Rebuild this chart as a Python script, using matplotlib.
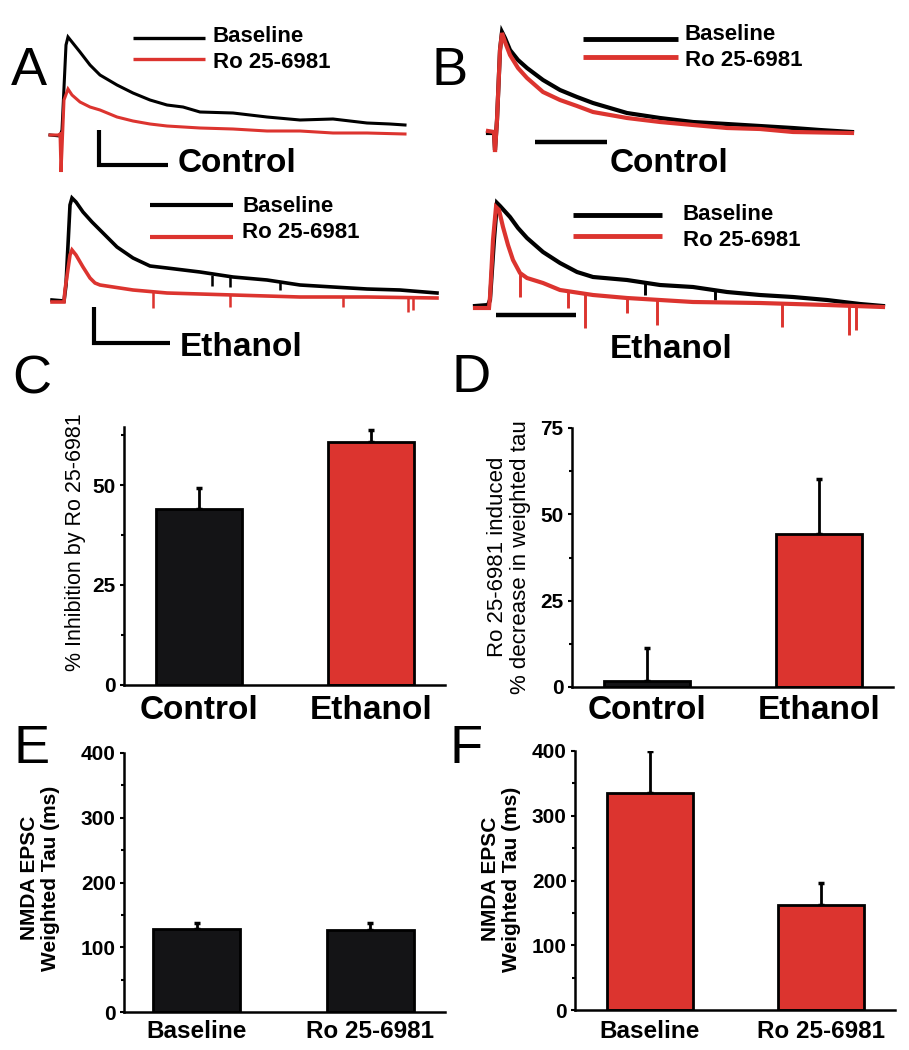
import matplotlib
matplotlib.use('Agg')
import matplotlib.pyplot as plt
import numpy as np

plt.rcParams['font.family'] = ['Liberation Sans', 'DejaVu Sans']

# ---- data (traces: time / amplitude in arbitrary units) ----
# A, control slice
a_ctrl_base_t = [0, 10, 12, 16, 18, 22, 30, 40, 50, 67, 83, 100, 117, 133, 150, 183, 217, 250, 283, 317, 340, 355]
a_ctrl_base_a = [0, -1, 5, 90, 98, 93, 83, 70, 60, 50, 42, 35, 30, 28, 23, 22, 18, 15, 16, 12, 11, 10]
a_ctrl_ro_t = [0, 8, 10, 11, 12, 14, 18, 22, 30, 40, 50, 67, 83, 100, 117, 150, 183, 217, 250, 283, 317, 355]
a_ctrl_ro_a = [0, 0, 1, -37, -15, 35, 46, 40, 33, 28, 25, 18, 14, 11, 9, 7, 6, 4, 4, 2, 2, 1]

# A, ethanol slice
a_eth_base_t = [0, 12, 14, 18, 20, 24, 31, 40, 48, 65, 81, 98, 115, 148, 181, 215, 248, 281, 315, 348, 385]
a_eth_base_a = [1, 0, 16, 96, 103, 99, 89, 79, 71, 54, 43, 35, 33, 29, 24, 21, 16, 14, 12, 11, 8]
a_eth_base_spk = [160, 178, 228]
a_eth_base_spk_top = [26, 24, 20]
a_eth_base_spk_bot = [15, 14, 11]
a_eth_ro_t = [0, 12, 13, 18, 20, 24, 31, 38, 43, 48, 81, 115, 181, 248, 315, 385]
a_eth_ro_a = [-1, -1, 11, 46, 51, 46, 34, 23, 18, 16, 11, 8, 6, 4, 4, 3]
a_eth_ro_spk = [101, 178, 291, 356, 361]
a_eth_ro_spk_top = [9, 6, 4, 4, 4]
a_eth_ro_spk_bot = [-7, -6, -6, -11, -9]

# B, control slice
b_ctrl_base_t = [0, 6, 7, 9, 12, 14, 17, 22, 30, 39, 55, 72, 89, 105, 122, 139, 172, 205, 239, 272, 305, 332, 364]
b_ctrl_base_a = [0, 0, -17, 13, 83, 101, 95, 83, 73, 65, 53, 43, 36, 30, 25, 20, 15, 11, 9, 7, 5, 3, 1]
b_ctrl_ro_t = [0, 6, 7, 9, 12, 14, 17, 22, 30, 39, 55, 72, 89, 105, 139, 172, 205, 239, 272, 305, 364]
b_ctrl_ro_a = [2, 1, -19, 13, 83, 100, 91, 78, 65, 55, 41, 33, 27, 21, 15, 11, 8, 5, 4, 1, 0]

# B, ethanol slice
b_eth_base_t = [0, 13, 15, 19, 22, 25, 35, 43, 52, 68, 85, 102, 118, 152, 185, 218, 252, 285, 318, 352, 385, 408]
b_eth_base_a = [2, 3, 8, 68, 105, 102, 91, 80, 70, 56, 45, 36, 31, 28, 23, 21, 16, 13, 11, 8, 4, 2]
b_eth_base_spk = [170, 240]
b_eth_base_spk_top = [25, 18]
b_eth_base_spk_bot = [13, 8]
b_eth_ro_t = [0, 14, 15, 18, 21, 24, 28, 33, 38, 45, 52, 68, 85, 118, 152, 218, 285, 352, 408]
b_eth_ro_a = [0, 0, 11, 68, 101, 98, 81, 63, 48, 35, 30, 25, 18, 13, 10, 6, 5, 3, 1]
b_eth_ro_spk = [45, 93, 110, 152, 182, 307, 374, 381]
b_eth_ro_spk_top = [35, 17, 14, 10, 8, 4, 3, 3]
b_eth_ro_spk_bot = [11, 0, -20, -5, -17, -19, -27, -22]

# C: % inhibition by Ro 25-6981
groups = ['Control', 'Ethanol']
inhib_mean = [44, 60.8]
inhib_sem = [5.3, 3.0]

# D: Ro-induced % decrease in weighted tau
tau_dec_mean = [1.8, 44.2]
tau_dec_sem = [9.5, 15.9]

# E, F: weighted tau (ms)
conditions = ['Baseline', 'Ro 25-6981']
tau_ctrl_mean = [128, 126]
tau_ctrl_sem = [9, 11]
tau_eth_mean = [335, 162]
tau_eth_sem = [65, 34]

BLACK = '#141416'
RED = '#dc342f'
W, H = 909, 1050

fig = plt.figure(figsize=(W / 100, H / 100), dpi=100)


def px_axes(x0, y0, x1, y1):
    return fig.add_axes([x0 / W, 1 - y1 / H, (x1 - x0) / W, (y1 - y0) / H])


def fig_text(x, y, s, **kw):
    fig.text(x / W, 1 - y / H, s, **kw)


def trace_panel(rect, xlim, ylim, base, ro, lw, base_spk=None, ro_spk=None):
    ax = px_axes(*rect)
    ax.plot(base[0], base[1], color='black', lw=lw, solid_joinstyle='miter')
    if base_spk:
        ax.vlines(base_spk[0], base_spk[1], base_spk[2], color='black', lw=lw * 0.7)
    ax.plot(ro[0], ro[1], color=RED, lw=lw, solid_joinstyle='miter')
    if ro_spk:
        ax.vlines(ro_spk[0], ro_spk[1], ro_spk[2], color=RED, lw=lw * 0.7)
    ax.set_xlim(*xlim)
    ax.set_ylim(*ylim)
    ax.axis('off')
    return ax


def legend_lines(ax, x0, x1, y_black, y_red, x_txt, y_txt_b, y_txt_r, lw):
    ax.plot([x0, x1], [y_black, y_black], color='black', lw=lw, solid_capstyle='butt')
    ax.plot([x0, x1], [y_red, y_red], color=RED, lw=lw, solid_capstyle='butt')
    ax.text(x_txt, y_txt_b, 'Baseline', fontsize=16, fontweight='bold', va='center', ha='left')
    ax.text(x_txt, y_txt_r, 'Ro 25-6981', fontsize=16, fontweight='bold', va='center', ha='left')


# ---- A: control ----
ax = trace_panel((40, 20, 450, 185), (-10, 400), (-50, 115),
                 (a_ctrl_base_t, a_ctrl_base_a), (a_ctrl_ro_t, a_ctrl_ro_a), 2.2)
ax.plot([49, 49, 118], [5, -30, -30], color='black', lw=3, solid_joinstyle='miter', solid_capstyle='butt')
ax.text(128, -28, 'Control', fontsize=24, fontweight='bold', va='center', ha='left')
legend_lines(ax, 83, 155, 97, 76, 163, 99, 73, 2.4)

# ---- A: ethanol ----
ax = trace_panel((40, 185, 450, 365), (-12, 398), (-64, 116),
                 (a_eth_base_t, a_eth_base_a), (a_eth_ro_t, a_eth_ro_a), 2.6,
                 (a_eth_base_spk, a_eth_base_spk_top, a_eth_base_spk_bot),
                 (a_eth_ro_spk, a_eth_ro_spk_top, a_eth_ro_spk_bot))
ax.plot([42, 42, 118], [-6, -42, -42], color='black', lw=3, solid_joinstyle='miter', solid_capstyle='butt')
ax.text(128, -46, 'Ethanol', fontsize=24, fontweight='bold', va='center', ha='left')
legend_lines(ax, 98, 181, 96, 64, 190, 94, 68, 3)

# ---- B: control ----
ax = trace_panel((465, 20, 895, 185), (-23, 407), (-52, 113),
                 (b_ctrl_base_t, b_ctrl_base_a), (b_ctrl_ro_t, b_ctrl_ro_a), 3.0)
ax.plot([47, 119], [-9, -9], color='black', lw=3.2, solid_capstyle='butt')
ax.text(122, -30, 'Control', fontsize=24, fontweight='bold', va='center', ha='left')
legend_lines(ax, 95, 190, 94, 76, 197, 98, 72, 3.5)

# ---- B: ethanol ----
ax = trace_panel((465, 190, 895, 365), (-10, 420), (-57, 118),
                 (b_eth_base_t, b_eth_base_a), (b_eth_ro_t, b_eth_ro_a), 3.0,
                 (b_eth_base_spk, b_eth_base_spk_top, b_eth_base_spk_bot),
                 (b_eth_ro_spk, b_eth_ro_spk_top, b_eth_ro_spk_bot))
ax.plot([21, 101], [-7, -7], color='black', lw=3.2, solid_capstyle='butt')
ax.text(135, -42, 'Ethanol', fontsize=24, fontweight='bold', va='center', ha='left')
legend_lines(ax, 98, 187, 93, 72, 208, 93, 67, 3.5)


# ---- bar panels ----
def bar_panel(rect, means, sems, colors, labels, ylim, major, minor, xlim, label_size, label_pad):
    ax = px_axes(*rect)
    pos = np.arange(len(means))
    ax.bar(pos, means, width=0.5, color=colors, edgecolor='black', linewidth=2, zorder=2)
    ax.errorbar(pos, means, yerr=[np.zeros(len(sems)), sems], fmt='none', ecolor='black',
                elinewidth=2, capsize=2, capthick=2.5, zorder=1)
    ax.set_xlim(*xlim)
    ax.set_ylim(*ylim)
    ax.set_yticks(major)
    ax.set_yticks(minor, minor=True)
    ax.set_xticks(pos, labels)
    for s in ('top', 'right'):
        ax.spines[s].set_visible(False)
    for s in ('left', 'bottom'):
        ax.spines[s].set_linewidth(1.8)
    ax.tick_params(axis='y', which='major', length=3, width=1.5, pad=3, labelsize=15)
    ax.tick_params(axis='y', which='minor', length=2, width=1.5)
    ax.tick_params(axis='x', length=0, pad=label_pad, labelsize=label_size)
    for t in ax.get_yticklabels() + ax.get_xticklabels():
        t.set_fontweight('bold')
    return ax


bar_panel((124, 427, 445, 685), inhib_mean, inhib_sem, [BLACK, RED], groups,
          (0, 64.5), [0, 25, 50], [12.5, 37.5, 62.5], (-0.436, 1.43), 24, 7)
fig_text(75, 542, '% Inhibition by Ro 25-6981', rotation=90, fontsize=15.5, ha='center', va='center')

bar_panel((572, 428, 893, 687), tau_dec_mean, tau_dec_sem, [BLACK, RED], groups,
          (0, 75), [0, 25, 50, 75], [12.5, 37.5, 62.5], (-0.436, 1.43), 24, 6)
fig_text(509, 557, 'Ro 25-6981 induced\n% decrease in weighted tau', rotation=90, fontsize=16,
         ha='center', va='center', multialignment='center', linespacing=1.15)

bar_panel((124, 753, 445, 1012), tau_ctrl_mean, tau_ctrl_sem, [BLACK, BLACK], conditions,
          (0, 400), [0, 100, 200, 300, 400], [50, 150, 250, 350], (-0.42, 1.43), 17.5, 6)
fig_text(40, 878, 'NMDA EPSC\nWeighted Tau (ms)', rotation=90, fontsize=15, fontweight='bold',
         ha='center', va='center', multialignment='center', linespacing=1.15)

bar_panel((575, 751, 895, 1010), tau_eth_mean, tau_eth_sem, [RED, RED], conditions,
          (0, 400), [0, 100, 200, 300, 400], [50, 150, 250, 350], (-0.436, 1.43), 17.5, 7)
fig_text(501, 879, 'NMDA EPSC\nWeighted Tau (ms)', rotation=90, fontsize=15, fontweight='bold',
         ha='center', va='center', multialignment='center', linespacing=1.15)

# panel letters
for letter, x, y in [('A', 11, 85), ('B', 432, 85), ('C', 12, 393), ('D', 452, 392),
                     ('E', 13, 763), ('F', 450, 763)]:
    fig_text(x, y, letter, fontsize=39, ha='left', va='baseline')

fig.savefig('out.png', dpi=100)
